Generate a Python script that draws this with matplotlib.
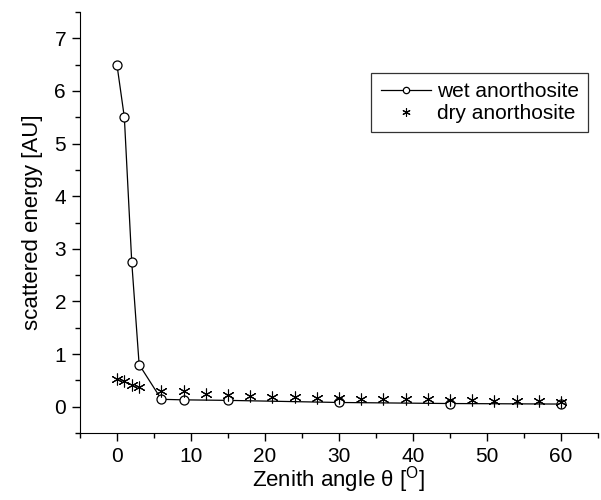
import matplotlib.pyplot as plt
from matplotlib.ticker import MultipleLocator

plt.rcParams['font.family'] = ['Liberation Sans', 'DejaVu Sans']
plt.rcParams['mathtext.fontset'] = 'custom'
plt.rcParams['mathtext.rm'] = 'Liberation Sans'

# wet anorthosite
wet_x = [0, 1, 2, 3, 6, 9, 15, 30, 45, 60]
wet_y = [6.5, 5.5, 2.75, 0.8, 0.14, 0.13, 0.12, 0.08, 0.06, 0.05]

# dry anorthosite
dry_x = [0, 1, 2, 3, 6, 9, 12, 15, 18, 21, 24, 27, 30, 33, 36, 39, 42, 45, 48, 51, 54, 57, 60]
dry_y = [0.52, 0.48, 0.42, 0.38, 0.30, 0.29, 0.25, 0.23, 0.20, 0.19, 0.18, 0.17, 0.16,
         0.15, 0.15, 0.14, 0.14, 0.13, 0.12, 0.11, 0.11, 0.10, 0.09]

fig = plt.figure(figsize=(6.01, 5.0), dpi=100)
ax = fig.add_axes([0.133, 0.134, 0.862, 0.842])

ax.plot(wet_x, wet_y, color='black', linewidth=0.9, marker='o', markersize=6.5,
        markerfacecolor='white', markeredgecolor='black', markeredgewidth=0.9,
        label='wet anorthosite', zorder=2)
ax.plot(dry_x, dry_y, linestyle='none', marker=(6, 2, 0), markersize=8.5,
        color='black', markeredgewidth=0.8, label='dry anorthosite', zorder=3)

ax.set_xlim(-5, 65)
ax.set_ylim(-0.5, 7.5)
ax.xaxis.set_major_locator(MultipleLocator(10))
ax.xaxis.set_minor_locator(MultipleLocator(5))
ax.yaxis.set_major_locator(MultipleLocator(1))
ax.yaxis.set_minor_locator(MultipleLocator(0.5))

ax.spines['top'].set_visible(False)
ax.spines['right'].set_visible(False)
ax.tick_params(which='major', direction='out', length=6, width=1, labelsize=15, pad=4)
ax.tick_params(which='minor', direction='out', length=3.5, width=1)

ax.set_xlabel('Zenith angle θ [$^{\\mathrm{O}}$]', fontsize=16, labelpad=-1)
ax.set_ylabel('scattered energy [AU]', fontsize=16, labelpad=8)

leg = ax.legend(loc='upper right', bbox_to_anchor=(0.981, 0.855), fontsize=15,
                frameon=True, fancybox=False, edgecolor='black', handlelength=2.4,
                borderpad=0.45, labelspacing=0.12, handletextpad=0.3, markerscale=0.7,
                borderaxespad=0)
leg.get_frame().set_linewidth(0.9)

fig.savefig('out.png', dpi=100)
